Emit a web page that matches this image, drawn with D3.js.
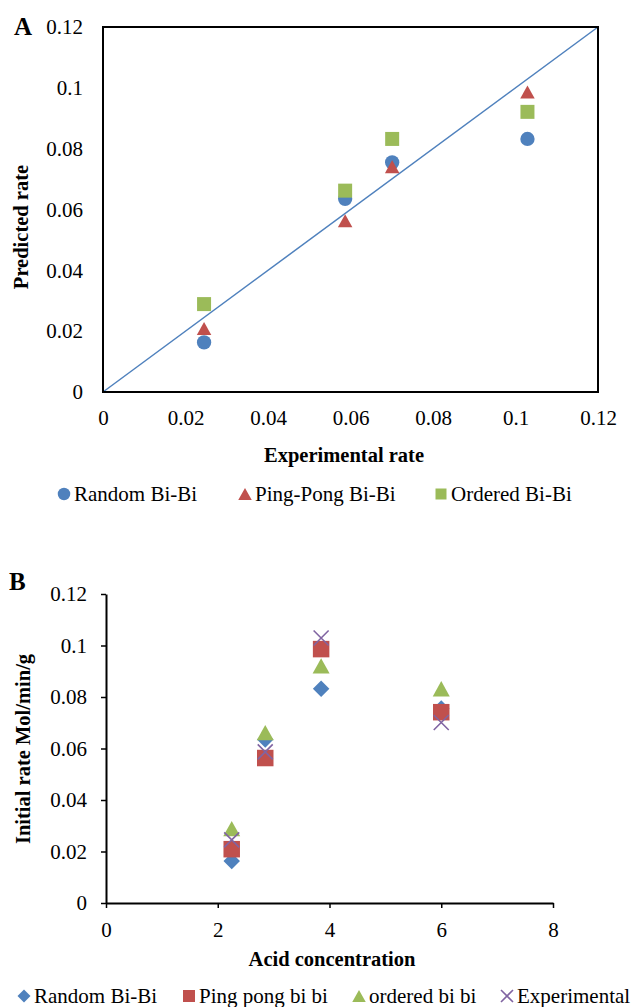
<!DOCTYPE html>
<html>
<head>
<meta charset="utf-8">
<script src="https://cdn.jsdelivr.net/npm/d3@7"></script>
<style>
  html, body { margin: 0; padding: 0; background: #fff; }
  svg, svg text { font-family: "Liberation Serif", "Times New Roman", serif; }
  svg { display: block; }
  .tick text { font-family: "Liberation Serif", "Times New Roman", serif !important; font-size: 21px; fill: #000; }
</style>
</head>
<body>
<svg id="chart" width="632" height="1007"></svg>
<script>
// Acid concentration of each run and its measured (experimental) initial rate
const acidConcentration = [2.25, 2.85, 3.85, 6.0];
const experimentalRate  = [0.0245, 0.0587, 0.1029, 0.0701];

// Rates predicted by each kinetic model, same run order
const randomBiBi   = [0.0163, 0.0635, 0.0832, 0.0755];
const pingPongBiBi = [0.0209, 0.0563, 0.0986, 0.0741];
const orderedBiBi  = [0.0289, 0.0662, 0.0921, 0.0832];

// Axis ticks
const rateTicks = [0, 0.02, 0.04, 0.06, 0.08, 0.1, 0.12];
const acidTicks = [0, 2, 4, 6, 8];

const BLUE = "#4f81bd", RED = "#c0504d", GREEN = "#9bbb59", PURPLE = "#8064a2";
const SERIF = "Liberation Serif, Times New Roman, serif";
const fmt = d => String(+d.toFixed(2));

const svg = d3.select("#chart");

// Marker shapes, each centred on its bounding box
const shapes = {
  circle:   s => d3.symbol(d3.symbolCircle, Math.PI * (s / 2) ** 2)(),
  square:   s => d3.symbol(d3.symbolSquare, s * s)(),
  diamond:  s => { const p = d3.path(), h = s / 2;
                   p.moveTo(0, -h); p.lineTo(h, 0); p.lineTo(0, h); p.lineTo(-h, 0); p.closePath();
                   return p.toString(); },
  triangle: s => { const p = d3.path(), w = s / 2, h = s * 0.45;
                   p.moveTo(0, -h); p.lineTo(w, h); p.lineTo(-w, h); p.closePath();
                   return p.toString(); },
  cross:    s => { const p = d3.path(), h = s / 2;
                   p.moveTo(-h, -h); p.lineTo(h, h); p.moveTo(-h, h); p.lineTo(h, -h);
                   return p.toString(); }
};
const paint = (sel, kind, color) => kind === "cross"
  ? sel.attr("fill", "none").attr("stroke", color).attr("stroke-width", 1.6)
  : sel.attr("fill", color);

/* ---------------- Panel A: predicted vs experimental ---------------- */
{
  const x = d3.scaleLinear().domain([0, 0.12]).range([103, 598]);
  const y = d3.scaleLinear().domain([0, 0.12]).range([392, 27]);
  const g = svg.append("g");

  g.append("text").attr("x", 14).attr("y", 35)
    .attr("font-size", 25).attr("font-weight", "bold").text("A");

  // y axis labels
  g.append("g").attr("transform", `translate(${x(0)},0)`)
    .call(d3.axisLeft(y).tickValues(rateTicks).tickFormat(fmt).tickSize(0).tickPadding(20))
    .attr("font-family", SERIF)
    .call(a => a.select(".domain").remove());
  // x axis labels
  g.append("g").attr("transform", `translate(0,${y(0)})`)
    .call(d3.axisBottom(x).tickValues(rateTicks).tickFormat(fmt).tickSize(0).tickPadding(18))
    .attr("font-family", SERIF)
    .call(a => a.select(".domain").remove());

  // 1:1 reference line
  g.append("line")
    .attr("x1", x(0)).attr("y1", y(0)).attr("x2", x(0.12)).attr("y2", y(0.12))
    .attr("stroke", BLUE).attr("stroke-width", 1.5);

  // plot frame
  g.append("rect")
    .attr("x", x(0)).attr("y", y(0.12))
    .attr("width", x(0.12) - x(0)).attr("height", y(0) - y(0.12))
    .attr("fill", "none").attr("stroke", "#000").attr("stroke-width", 2);

  const seriesA = [
    { name: "Random Bi-Bi",    values: randomBiBi,   color: BLUE,  kind: "circle",   size: 14.3, leg: 12.5 },
    { name: "Ping-Pong Bi-Bi", values: pingPongBiBi, color: RED,   kind: "triangle", size: 14.5, leg: 13.5 },
    { name: "Ordered Bi-Bi",   values: orderedBiBi,  color: GREEN, kind: "square",   size: 14,   leg: 11 }
  ];

  seriesA.forEach(s => {
    g.append("g").selectAll("path")
      .data(s.values.map((v, i) => ({ ex: experimentalRate[i], v })))
      .join("path")
      .attr("transform", d => `translate(${x(d.ex)},${y(d.v)})`)
      .attr("d", shapes[s.kind](s.size))
      .call(paint, s.kind, s.color);
  });

  g.append("text")
    .attr("x", 344).attr("y", 462).attr("text-anchor", "middle")
    .attr("font-size", 20.5).attr("font-weight", "bold").text("Experimental rate");
  g.append("text")
    .attr("transform", "translate(28,227) rotate(-90)").attr("text-anchor", "middle")
    .attr("font-size", 20.5).attr("font-weight", "bold").text("Predicted rate");

  // legend
  const legX = [64, 245, 441];
  seriesA.forEach((s, i) => {
    const lg = g.append("g").attr("transform", `translate(${legX[i]},494)`);
    lg.append("path").attr("d", shapes[s.kind](s.leg)).call(paint, s.kind, s.color);
    lg.append("text").attr("x", 10).attr("y", 7).attr("font-size", 21).text(s.name);
  });
}

/* ---------------- Panel B: rate vs acid concentration ---------------- */
{
  const x = d3.scaleLinear().domain([0, 8]).range([106, 553]);
  const y = d3.scaleLinear().domain([0, 0.12]).range([903, 594]);
  const g = svg.append("g");

  g.append("text").attr("x", 9).attr("y", 590)
    .attr("font-size", 25).attr("font-weight", "bold").text("B");

  const styleAxis = a => {
    a.attr("font-family", SERIF);
    a.select(".domain").attr("stroke", "#000").attr("stroke-width", 2);
    a.selectAll(".tick line").attr("stroke", "#000").attr("stroke-width", 1.5);
  };

  g.append("g").attr("transform", `translate(${x(0)},0)`)
    .call(d3.axisLeft(y).tickValues(rateTicks).tickFormat(fmt).tickSizeInner(5).tickSizeOuter(0).tickPadding(14))
    .call(styleAxis);
  g.append("g").attr("transform", `translate(0,${y(0)})`)
    .call(d3.axisBottom(x).tickValues(acidTicks).tickSizeInner(5).tickSizeOuter(0).tickPadding(14))
    .call(styleAxis);

  const seriesB = [
    { name: "Random Bi-Bi",    values: randomBiBi,       color: BLUE,   kind: "diamond",  size: 16.5, leg: 13 },
    { name: "Ping pong bi bi", values: pingPongBiBi,     color: RED,    kind: "square",   size: 16.5, leg: 12 },
    { name: "ordered bi bi",   values: orderedBiBi,      color: GREEN,  kind: "triangle", size: 17,   leg: 13.5 },
    { name: "Experimental",    values: experimentalRate, color: PURPLE, kind: "cross",    size: 15,   leg: 12 }
  ];

  seriesB.forEach(s => {
    g.append("g").selectAll("path")
      .data(s.values.map((v, i) => ({ c: acidConcentration[i], v })))
      .join("path")
      .attr("transform", d => `translate(${x(d.c)},${y(d.v)})`)
      .attr("d", shapes[s.kind](s.size))
      .call(paint, s.kind, s.color);
  });

  g.append("text")
    .attr("x", 332).attr("y", 966).attr("text-anchor", "middle")
    .attr("font-size", 20.5).attr("font-weight", "bold").text("Acid concentration");
  g.append("text")
    .attr("transform", "translate(30,749) rotate(-90)").attr("text-anchor", "middle")
    .attr("font-size", 20.5).attr("font-weight", "bold").text("Initial rate Mol/min/g");

  // legend
  const legX = [24, 189, 359, 507];
  seriesB.forEach((s, i) => {
    const lg = g.append("g").attr("transform", `translate(${legX[i]},996)`);
    lg.append("path").attr("d", shapes[s.kind](s.leg)).call(paint, s.kind, s.color);
    lg.append("text").attr("x", 10).attr("y", 7).attr("font-size", 21).text(s.name);
  });
}
</script>
</body>
</html>
